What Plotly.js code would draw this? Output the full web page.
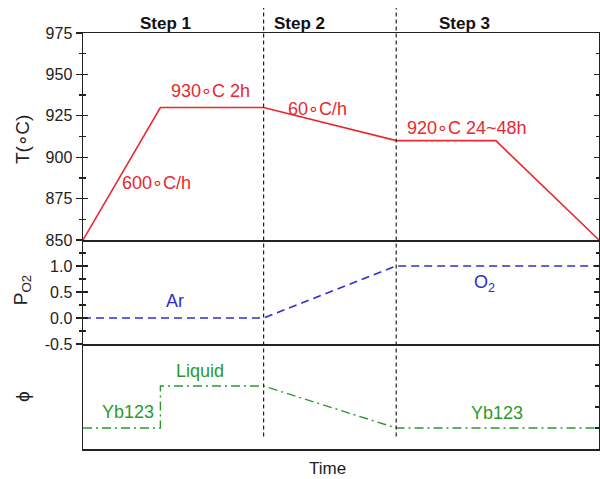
<!DOCTYPE html>
<html>
<head>
<meta charset="utf-8">
<script src="https://cdn.plot.ly/plotly-3.0.1.min.js"></script>
<style>html,body{margin:0;padding:0;background:#fff;}#chart{width:600px;height:479px;}</style>
</head>
<body>
<div id="chart"></div>
<script>
// ---- data ----
const tempTime = [0, 1.5, 3.5, 6.07, 8.0, 10];
const tempValues = [850, 930, 930, 910, 910, 850];
const po2Time = [0, 3.5, 6.07, 10];
const po2Values = [0, 0, 1, 1];
const phiTime = [0, 1.5, 1.5, 3.5, 6.07, 10];
const phiValues = [1, 1, 3, 3, 1, 1];
const stepBoundaries = [3.5, 6.07];
const stepLabels = ["Step 1", "Step 2", "Step 3"];
const stepLabelX = [1.59, 4.2, 7.4];
const tempTicks = [850, 875, 900, 925, 950, 975];
const tempMinor = [862.5, 887.5, 912.5, 937.5, 962.5];
const po2Ticks = [-0.5, 0, 0.5, 1.0];
const po2TickText = ["-0.5", "0.0", "0.5", "1.0"];
const po2Minor = [-0.25, 0.25, 0.75, 1.25];
const phiTicks = [1, 2, 3, 4];

const RED = '#e8282e', BLUE = '#2e2ed0', GREEN = '#2a9a2a', AX = '#222';
const FONT = 'Liberation Sans, Arial, sans-serif';
const DEG = '<span style="font-family:\'DejaVu Sans Mono\'">\u2218</span>';

const traces = [
  {x: tempTime, y: tempValues, xaxis: 'x', yaxis: 'y', mode: 'lines',
   line: {color: RED, width: 1.6}, hoverinfo: 'skip'},
  {x: po2Time, y: po2Values, xaxis: 'x2', yaxis: 'y2', mode: 'lines',
   line: {color: BLUE, width: 1.6, dash: '8px,5px'}, hoverinfo: 'skip'},
  {x: phiTime, y: phiValues, xaxis: 'x3', yaxis: 'y3', mode: 'lines',
   line: {color: GREEN, width: 1.4, dash: '9px,4px,2px,4px'}, hoverinfo: 'skip'},
  {x: [], y: [], xaxis: 'x', yaxis: 'y4', showlegend: false},
  {x: [], y: [], xaxis: 'x2', yaxis: 'y5', showlegend: false}
];

const xBase = {range: [0, 10], showline: true, linecolor: AX, linewidth: 1.5,
  showticklabels: false, ticks: '', showgrid: false, zeroline: false, fixedrange: true};
const dTop = [0.5024, 1], dMid = [0.2524, 0.5024], dBot = [0, 0.2524];

const layout = {
  width: 600, height: 479,
  margin: {l: 83, r: 1, t: 33, b: 30},
  paper_bgcolor: '#fff', plot_bgcolor: '#fff',
  showlegend: false,
  font: {family: FONT, size: 16, color: '#222'},
  xaxis: Object.assign({}, xBase, {anchor: 'y', mirror: true}),
  xaxis2: Object.assign({}, xBase, {anchor: 'y2', mirror: false}),
  xaxis3: Object.assign({}, xBase, {anchor: 'y3', mirror: false}),
  yaxis: {domain: dTop, range: [850, 975], anchor: 'x', tickvals: tempTicks,
    ticks: 'outside', ticklen: 6, tickwidth: 1.3, tickcolor: AX,
    minor: {tickvals: tempMinor, ticks: 'outside', ticklen: 3, tickwidth: 1.3, tickcolor: AX, showgrid: false},
    showline: true, mirror: true, linecolor: AX, linewidth: 1.5, showgrid: false, zeroline: false,
    tickfont: {size: 16, family: FONT, color: '#222'}},
  yaxis4: {domain: dTop, range: [850, 975], anchor: 'x', overlaying: 'y', side: 'left',
    tickvals: tempTicks, ticks: 'inside', ticklen: 5, tickwidth: 1.3, tickcolor: AX, mirror: 'ticks',
    minor: {tickvals: tempMinor, ticks: 'inside', ticklen: 3, tickwidth: 1.3, tickcolor: AX, showgrid: false},
    showticklabels: false, showline: false, showgrid: false, zeroline: false},
  yaxis2: {domain: dMid, range: [-0.5, 1.5], anchor: 'x2', tickvals: po2Ticks, ticktext: po2TickText,
    ticks: 'outside', ticklen: 6, tickwidth: 1.3, tickcolor: AX,
    minor: {tickvals: po2Minor, ticks: 'outside', ticklen: 3, tickwidth: 1.3, tickcolor: AX, showgrid: false},
    showline: true, mirror: true, linecolor: AX, linewidth: 1.5, showgrid: false, zeroline: false,
    tickfont: {size: 16, family: FONT, color: '#222'}},
  yaxis5: {domain: dMid, range: [-0.5, 1.5], anchor: 'x2', overlaying: 'y2', side: 'left',
    tickvals: po2Ticks, ticks: 'inside', ticklen: 5, tickwidth: 1.3, tickcolor: AX, mirror: 'ticks',
    minor: {tickvals: po2Minor, ticks: 'inside', ticklen: 3, tickwidth: 1.3, tickcolor: AX, showgrid: false},
    showticklabels: false, showline: false, showgrid: false, zeroline: false},
  yaxis3: {domain: dBot, range: [0, 5], anchor: 'x3', side: 'right', tickvals: phiTicks,
    ticks: 'inside', ticklen: 4, tickwidth: 1.3, tickcolor: AX, showticklabels: false,
    showline: true, mirror: true, linecolor: AX, linewidth: 1.5, showgrid: false, zeroline: false},
  shapes: stepBoundaries.map(b => ({type: 'line', xref: 'x', yref: 'paper', x0: b, x1: b,
    y0: 0.03, y1: 1.06, line: {color: '#222', width: 1.2, dash: '4px,3px'}})),
  annotations: []
};

const A = layout.annotations;
function ann(o) { A.push(Object.assign({showarrow: false, xanchor: 'center', yanchor: 'middle'}, o)); }
stepLabels.forEach((s, i) => ann({text: '<b>' + s + '</b>', x: stepLabelX[i], xref: 'x',
  y: 1.024, yref: 'paper', font: {size: 17, color: '#111', family: FONT}}));
const red = {size: 18, color: RED, family: FONT};
const blue = {size: 18, color: BLUE, family: FONT};
const green = {size: 18, color: GREEN, family: FONT};
ann({text: '930' + DEG + 'C 2h', x: 2.48, y: 940, xref: 'x', yref: 'y', font: red});
ann({text: '600' + DEG + 'C/h', x: 1.43, y: 885, xref: 'x', yref: 'y', font: red});
ann({text: '60' + DEG + 'C/h', x: 4.55, y: 929.7, xref: 'x', yref: 'y', font: red});
ann({text: '920' + DEG + 'C 24~48h', x: 7.44, y: 918, xref: 'x', yref: 'y', font: red});
ann({text: 'Ar', x: 1.78, y: 0.32, xref: 'x2', yref: 'y2', font: blue});
ann({text: 'O<sub>2</sub>', x: 7.79, y: 0.66, xref: 'x2', yref: 'y2', font: blue});
ann({text: 'Liquid', x: 2.27, y: 3.71, xref: 'x3', yref: 'y3', font: green});
ann({text: 'Yb123', x: 0.87, y: 1.76, xref: 'x3', yref: 'y3', font: green});
ann({text: 'Yb123', x: 8.02, y: 1.71, xref: 'x3', yref: 'y3', font: green});
ann({text: 'Time', x: 4.73, xref: 'x', y: -0.046, yref: 'paper',
  font: {size: 17, color: '#222', family: FONT}});
const tfont = {size: 19, color: '#222', family: FONT};
ann({text: 'T(' + DEG + 'C)', x: -0.118, xref: 'paper', y: 0.743, yref: 'paper', textangle: -90, font: tfont});
ann({text: 'P<sub>O2</sub>', x: -0.118, xref: 'paper', y: 0.382, yref: 'paper', textangle: -90, font: tfont});
ann({text: '\u03d5', x: -0.118, xref: 'paper', y: 0.125, yref: 'paper', textangle: -90, font: tfont});

Plotly.newPlot('chart', traces, layout, {staticPlot: true, displayModeBar: false});
</script>
</body>
</html>
